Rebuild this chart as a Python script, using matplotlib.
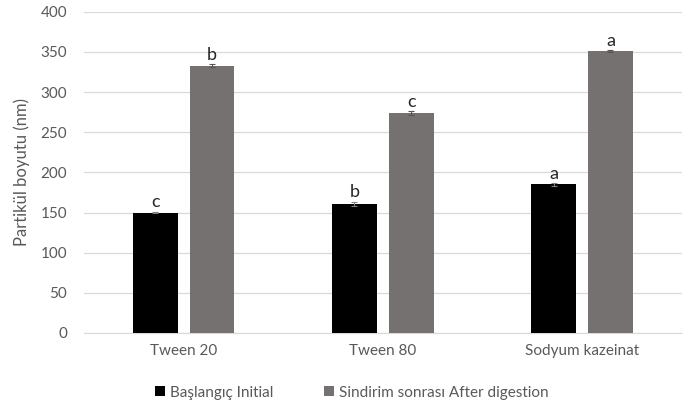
import numpy as np
import matplotlib.pyplot as plt

plt.rcParams['font.family'] = ['Lato', 'DejaVu Sans']

# data
groups = ['Tween 20', 'Tween 80', 'Sodyum kazeinat']
initial = [150, 161, 185]
after = [333, 274, 351]
initial_err = [1.0, 2.5, 1.5]
after_err = [1.5, 2.0, 1.0]
initial_letters = ['c', 'b', 'a']
after_letters = ['b', 'c', 'a']
series_names = ['Başlangıç Initial', 'Sindirim sonrası After digestion']

fig = plt.figure(figsize=(6.83, 4.09), dpi=100)
ax = fig.add_axes([0.123, 0.186, 0.875, 0.785])

x = np.arange(len(groups))
w = 0.225
off = 0.1425
txt = '#595959'

b1 = ax.bar(x - off, initial, w, color='black', zorder=3, label=series_names[0])
b2 = ax.bar(x + off, after, w, color='#767171', zorder=3, label=series_names[1])
ax.errorbar(x - off, initial, yerr=initial_err, fmt='none', ecolor='#7f7f7f',
            elinewidth=0.8, capsize=2.5, capthick=0.8, zorder=4)
ax.errorbar(x + off, after, yerr=after_err, fmt='none', ecolor='#555555',
            elinewidth=0.8, capsize=2.5, capthick=0.8, zorder=4)

for xi, v, e, l in zip(x - off, initial, initial_err, initial_letters):
    ax.text(xi, v + e + 2, l, ha='center', va='bottom', fontsize=13, color='#262626')
for xi, v, e, l in zip(x + off, after, after_err, after_letters):
    ax.text(xi, v + e + 2, l, ha='center', va='bottom', fontsize=13, color='#262626')

ax.set_xlim(-0.5, 2.5)
ax.set_ylim(0, 400)
ax.set_yticks(range(0, 401, 50))
ax.set_xticks(x)
ax.set_xticklabels(groups)
ax.yaxis.grid(True, color='#d9d9d9', linewidth=0.9, zorder=0)
ax.tick_params(axis='both', length=0, labelsize=11, colors=txt, pad=8)
ax.tick_params(axis='y', pad=12)
for s in ['top', 'right', 'left']:
    ax.spines[s].set_visible(False)
ax.spines['bottom'].set_color('#d9d9d9')
ax.set_ylabel('Partikül boyutu (nm)', fontsize=12, color=txt, labelpad=8)

fig.legend(handles=[b1, b2], loc='center', bbox_to_anchor=(0.515, 0.04), ncol=2,
           frameon=False, fontsize=11, labelcolor=txt, handlelength=0.65,
           handleheight=0.65, handletextpad=0.35, columnspacing=3.3)

fig.savefig('out.png', dpi=100)
